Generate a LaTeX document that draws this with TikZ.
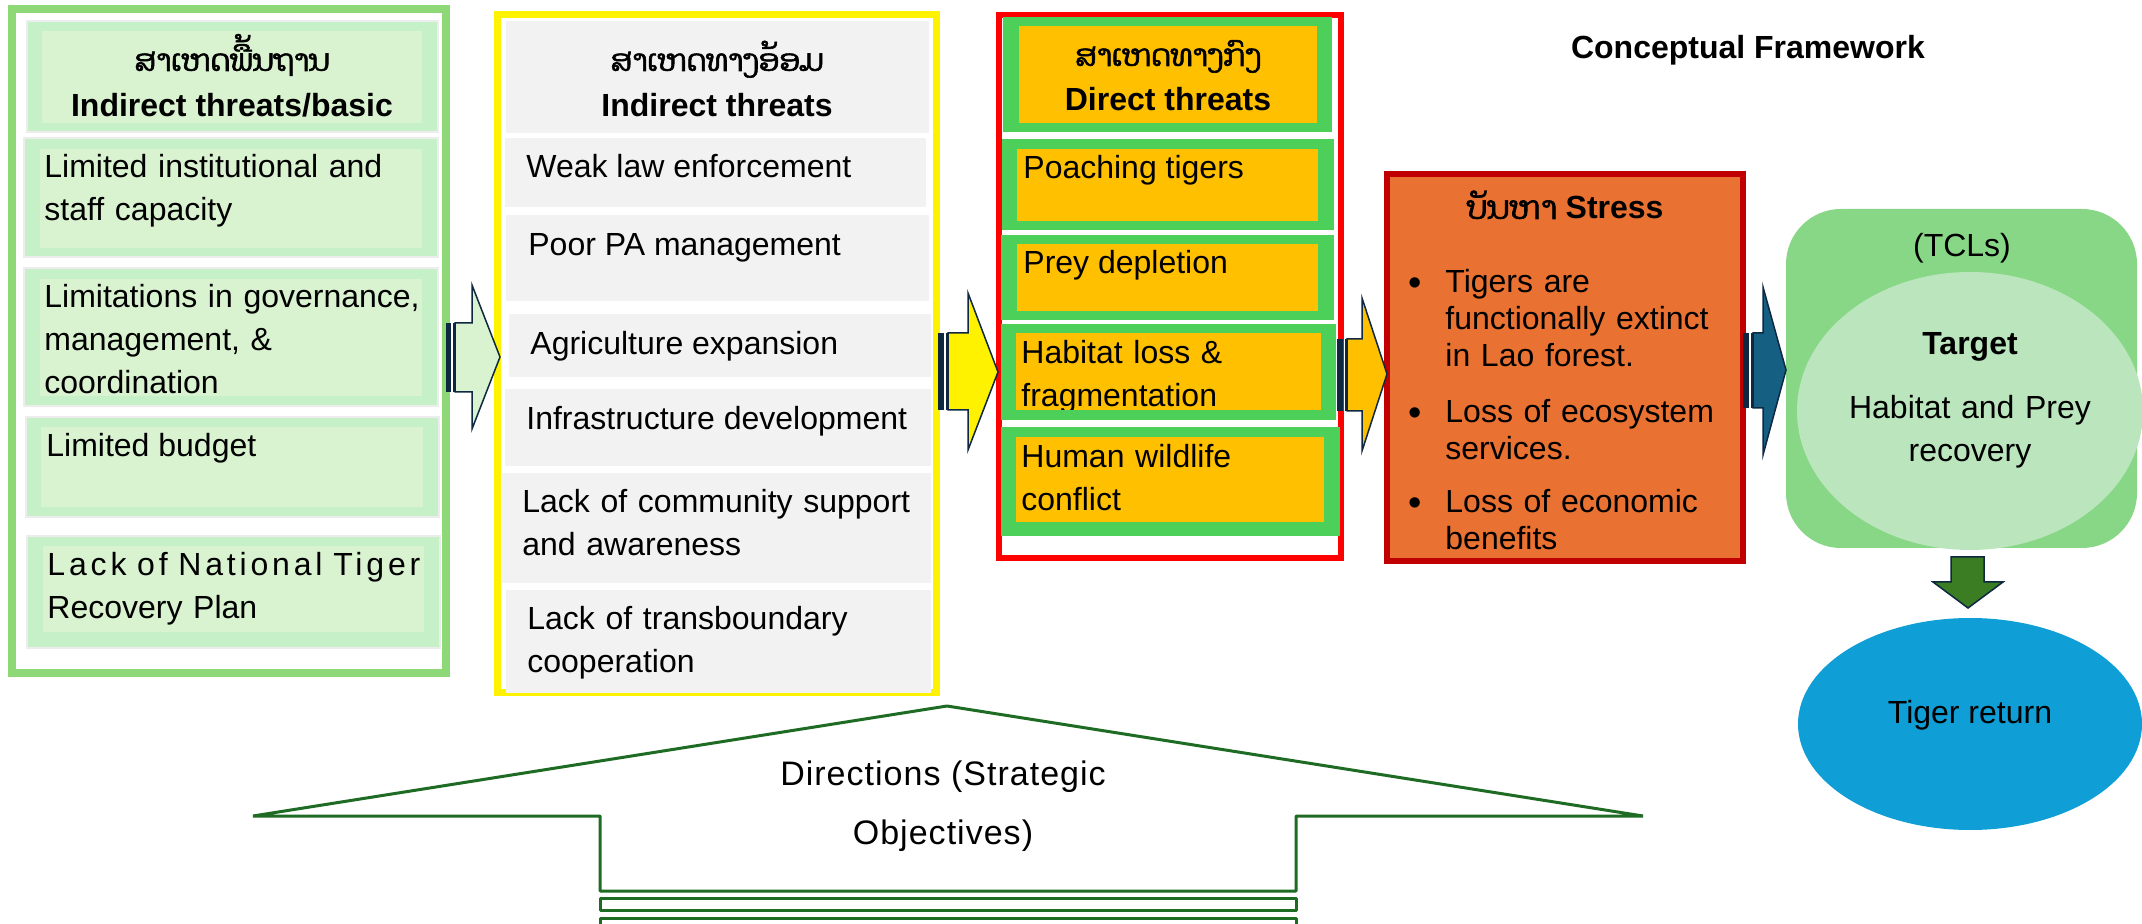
\documentclass[tikz,border=0pt]{standalone}
\usepackage{fontspec}
\setmainfont{Liberation Sans}
\newfontfamily\laofont[Script=Lao, FakeBold=2]{Dhyana}
\usetikzlibrary{shapes.geometric}
\definecolor{gframe}{RGB}{142,216,120}
\definecolor{gout}{RGB}{197,240,200}
\definecolor{gin}{RGB}{217,242,208}
\definecolor{ygrey}{RGB}{242,242,242}
\definecolor{dgreen}{RGB}{77,208,90}
\definecolor{gold}{RGB}{255,192,0}
\definecolor{stressfill}{RGB}{233,113,50}
\definecolor{stressline}{RGB}{192,0,0}
\definecolor{tgtbox}{RGB}{136,215,135}
\definecolor{tgtell}{RGB}{187,229,189}
\definecolor{navy}{RGB}{14,40,65}
\definecolor{arrblue}{RGB}{21,96,130}
\definecolor{arrgreen}{RGB}{59,125,35}
\definecolor{tigerblue}{RGB}{15,158,213}
\definecolor{objgreen}{RGB}{30,107,36}
\begin{document}
\begin{tikzpicture}[x=0.5pt,y=-0.5pt,
  txt/.style={inner sep=0pt, font=\fontsize{16}{21.5}\selectfont},
  btxt/.style={inner sep=0pt, font=\fontsize{16}{21.5}\selectfont\bfseries},
  lao/.style={inner sep=0pt, font=\laofont\fontsize{15}{20}\selectfont},
  ml/.style={txt, text width=#1, align=left},
  stxt/.style={inner sep=0pt, font=\fontsize{16}{18.5}\selectfont, text width=150pt, align=left},
  bul/.style={inner sep=0pt, font=\fontsize{19}{20}\selectfont},
  outbox/.style={fill=gout, draw=black!7, line width=0.6pt},
  arr/.style={draw=navy, line width=0.75pt, line join=miter},
  stripe/.style={fill=navy},
  objline/.style={draw=objgreen, line width=1.5pt, line join=bevel, fill=white},
]
\useasboundingbox (0,0) rectangle (2142,924);
\fill[white] (0,0) rectangle (2142,924);

% ---------------- title
\node[btxt, anchor=base] (title) at (1748,59) {Conceptual Framework};

% ---------------- left column
\draw[gframe, line width=4pt] (12,9) rectangle (446,673);
\path[outbox] (27,21) rectangle (438,132);
\fill[gin] (42,31) rectangle (422,123);
\node[lao, anchor=base] (l0a) at (232,71) {ສາເຫດພື້ນຖານ};
\node[btxt, anchor=base] (l0b) at (232,117) {Indirect threats/basic};
\path[outbox] (24,138) rectangle (438,257);
\fill[gin] (40,149) rectangle (422,248);
\node[ml=200pt, anchor=base west] (l1) at (44,178) {Limited institutional and\\staff capacity};
\path[outbox] (24,268) rectangle (438,406);
\fill[gin] (40,279) rectangle (422,396);
\node[ml=200pt, anchor=base west] (l2) at (44,308) {Limitations in governance,\\management, \&\\coordination};
\path[outbox] (26,417) rectangle (439,517);
\fill[gin] (41,427) rectangle (423,507);
\node[txt, anchor=base west] (l3) at (46,457) {Limited budget};
\path[outbox] (27,536) rectangle (440,648);
\fill[gin] (43,546) rectangle (424,632);
\node[ml=200pt, anchor=base west] (l4) at (47,576) {{\addfontfeature{LetterSpace=12}Lack of National Tiger}\\Recovery Plan};

% ---------------- middle column
\draw[yellow, line width=3.5pt] (497.5,14.5) rectangle (936.5,692.5);
\fill[ygrey] (506,21) rectangle (929,133);
\node[lao, anchor=base] (m0a) at (717,71) {ສາເຫດທາງອ້ອມ};
\node[btxt, anchor=base] (m0b) at (717,117) {Indirect threats};
\fill[ygrey] (505,138) rectangle (926,207);
\node[txt, anchor=base west] (m1) at (526,178) {Weak law enforcement};
\fill[ygrey] (506,215) rectangle (929,301);
\node[txt, anchor=base west] (m2) at (528,256) {Poor PA management};
\fill[ygrey] (509,314) rectangle (931,377);
\node[txt, anchor=base west] (m3) at (530,355) {Agriculture expansion};
\fill[ygrey] (505,389) rectangle (931,466);
\node[txt, anchor=base west] (m4) at (526,430) {Infrastructure development};
\fill[ygrey] (502,473) rectangle (931,583);
\node[ml=210pt, anchor=base west] (m5) at (522,513) {Lack of community support\\and awareness};
\fill[ygrey] (506,590) rectangle (931,693);
\node[ml=210pt, anchor=base west] (m6) at (527,630) {Lack of transboundary\\cooperation};

% ---------------- direct threats column
\draw[red, line width=3pt] (999,15) rectangle (1341,558);
\fill[dgreen] (1003,17) rectangle (1332,132);
\fill[gold] (1019,26) rectangle (1317,123);
\node[lao, anchor=base] (r0a) at (1168,66) {ສາເຫດທາງກົງ};
\node[btxt, anchor=base] (r0b) at (1168,111) {Direct threats};
\fill[dgreen] (1002,139) rectangle (1334,230);
\fill[gold] (1017,149) rectangle (1318,221);
\node[txt, anchor=base west] (r1) at (1023,179) {Poaching tigers};
\fill[dgreen] (1001,235) rectangle (1334,320);
\fill[gold] (1017,244) rectangle (1318,311);
\node[txt, anchor=base west] (r2) at (1023,274) {Prey depletion};
\fill[dgreen] (1001,324) rectangle (1336,420);
\fill[gold] (1016,333) rectangle (1321,410);
\begin{scope}
\clip (1016,333) rectangle (1321,410);
\node[ml=150pt, anchor=base west] (r3) at (1021,364) {Habitat loss \&\\fragmentation};
\end{scope}
\fill[dgreen] (1001,427) rectangle (1340,536);
\fill[gold] (1016,437) rectangle (1324,522);
\node[ml=150pt, anchor=base west] (r4) at (1021,468) {Human wildlife\\conflict};

% ---------------- stress box
\draw[stressline, fill=stressfill, line width=3pt] (1387,174) rectangle (1743,561);
\node[txt, anchor=base] (st) at (1565,219) {{\laofont ບັນຫາ} \textbf{Stress}};
\begin{scope}
\clip (1390,177) rectangle (1740,551);
\node[stxt, anchor=base west] (s1) at (1445,293) {Tigers are\\functionally extinct\\in Lao forest.};
\node[stxt, anchor=base west] (s2) at (1445,423) {Loss of ecosystem\\services.};
\node[stxt, anchor=base west] (s3) at (1445,513) {Loss of economic\\benefits};
\node[bul, anchor=base] (b1) at (1415,296) {•};
\node[bul, anchor=base] (b2) at (1415,426) {•};
\node[bul, anchor=base] (b3) at (1415,516) {•};
\end{scope}

% ---------------- target
\fill[tgtbox, rounded corners=27.5pt] (1786,209) rectangle (2137,548);
\node[ellipse, fill=tgtell, minimum width=173pt, minimum height=139pt, inner sep=0pt] (tgt) at (1970,411) {};
\node[txt, anchor=base] (tcl) at (1962,257) {(TCLs)};
\node[btxt, anchor=base] (tg) at (1970,355) {Target};
\node[txt, anchor=base, text width=160pt, align=center] (hp) at (1970,419) {Habitat and Prey\\recovery};

% ---------------- down arrow + tiger return
\draw[arr, fill=arrgreen] (1951,557) -- (1984,557) -- (1984,582) -- (2003,582) -- (1968,608) -- (1933,582) -- (1951,582) -- cycle;
\node[ellipse, fill=tigerblue, minimum width=172pt, minimum height=106pt, inner sep=0pt] (tr) at (1970,724) {};
\node[txt, anchor=base] (trt) at (1970,723) {Tiger return};

% ---------------- block arrows between columns
\fill[stripe] (446,323) rectangle (451,392);
\fill[stripe] (452.5,323) rectangle (454.5,392);
\draw[arr, fill=gin] (455,323) -- (472,323) -- (472,285) -- (500,357) -- (472,429) -- (472,392) -- (455,392) -- cycle;

\fill[stripe] (938,333) rectangle (944,410);
\fill[stripe] (945.5,333) rectangle (947.5,410);
\draw[arr, fill=yellow] (948,333) -- (968,333) -- (968,293) -- (998,372) -- (968,450) -- (968,410) -- (948,410) -- cycle;

\fill[stripe] (1337,339) rectangle (1343,411);
\fill[stripe] (1344.5,339) rectangle (1346.5,411);
\draw[arr, fill=gold] (1347,339) -- (1362,339) -- (1362,298) -- (1387,374) -- (1362,451) -- (1362,411) -- (1347,411) -- cycle;

\fill[stripe] (1743,333) rectangle (1749,408);
\fill[stripe] (1750.5,333) rectangle (1752.5,408);
\draw[arr, fill=arrblue] (1753,333) -- (1763,333) -- (1763,287) -- (1786,370) -- (1763,455) -- (1763,408) -- (1753,408) -- cycle;

% ---------------- strategic objectives arrow
\path[objline] (947,706) -- (1643,816) -- (1296,816) -- (1296,891) -- (600,891) -- (600,816) -- (253,816) -- cycle;
\path[objline] (600,898) rectangle (1296,910);
\path[objline] (600,918) rectangle (1296,932);
\node[inner sep=0pt, font=\fontsize{17}{20}\selectfont\addfontfeature{LetterSpace=3}, anchor=base] (d1) at (943,785) {Directions (Strategic};
\node[inner sep=0pt, font=\fontsize{17}{20}\selectfont\addfontfeature{LetterSpace=3}, anchor=base] (d2) at (943,844) {Objectives)};
\end{tikzpicture}
\end{document}
